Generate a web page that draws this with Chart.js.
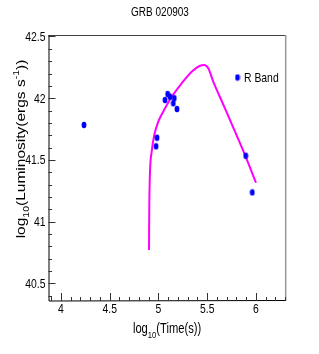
<!DOCTYPE html>
<html>
<head>
<meta charset="utf-8">
<script src="https://cdn.jsdelivr.net/npm/chart.js@4.4.1/dist/chart.umd.min.js"></script>
<style>
    html, body { margin: 0; padding: 0; background: #fff; }
    #wrap { position: relative; width: 319px; height: 354px; }
</style>
</head>
<body>
<div id="wrap"><canvas id="grb"></canvas></div>
<script>
// observed R band points, log10(t), log10(L)
const obsX = [4.236, 5.094, 5.067, 5.118, 5.162, 5.152, 5.19, 4.985, 4.975, 5.895, 5.962];
const obsY = [41.783, 42.034, 41.985, 42.012, 42.0, 41.959, 41.912, 41.68, 41.61, 41.534, 41.237];

// model curve (magenta)
const fitX = [4.903, 4.904, 4.906, 4.913, 4.93, 4.957, 4.998, 5.067, 5.136, 5.238, 5.341, 5.426, 5.47, 5.511, 5.562, 5.682, 5.785, 5.887, 6.0];
const fitY = [40.77, 40.93, 41.135, 41.404, 41.566, 41.702, 41.81, 41.918, 42.012, 42.121, 42.215, 42.263, 42.269, 42.242, 42.134, 41.918, 41.729, 41.54, 41.315];

const xTicks = [4, 4.5, 5, 5.5, 6];
const yTicks = [40.5, 41, 41.5, 42, 42.5];
const xMinor = 0.1;
const yMinor = 0.1;

const plotTitle = "GRB 020903";
const legendLabel = "R Band";

const SX = 0.8; // text looks squeezed horizontally
const FONT = "'Liberation Sans', Arial, sans-serif";

function dotImage() {
    const c = document.createElement("canvas");
    c.width = 6;
    c.height = 8;
    const g = c.getContext("2d");
    g.fillStyle = "#0000ff";
    g.beginPath();
    g.ellipse(3, 4, 2.4, 3.2, 0, 0, Math.PI * 2);
    g.fill();
    return c;
}
const dot = dotImage();

function narrowText(ctx, text, x, y, size, align) {
    ctx.save();
    ctx.font = size + "px " + FONT;
    const w = ctx.measureText(text).width * SX;
    let x0 = x;
    if (align === "center") x0 = x - w / 2;
    if (align === "right") x0 = x - w;
    ctx.translate(x0, y);
    ctx.scale(SX, 1);
    ctx.textAlign = "left";
    ctx.textBaseline = "alphabetic";
    ctx.fillText(text, 0, 0);
    ctx.restore();
}

// parts: [text, size, baseline shift]
function richWidth(ctx, parts) {
    let w = 0;
    for (const p of parts) {
        ctx.font = p[1] + "px " + FONT;
        w += ctx.measureText(p[0]).width;
    }
    return w;
}

function richText(ctx, parts) {
    let x = 0;
    for (const p of parts) {
        ctx.font = p[1] + "px " + FONT;
        ctx.fillText(p[0], x, p[2]);
        x += ctx.measureText(p[0]).width;
    }
}

const framePlugin = {
    id: "frame",
    beforeDraw(chart) {
        const ctx = chart.ctx;
        ctx.save();
        ctx.fillStyle = "#fff";
        ctx.fillRect(0, 0, chart.width, chart.height);
        ctx.restore();
    },
    afterDraw(chart) {
        const ctx = chart.ctx;
        const a = chart.chartArea;
        const xs = chart.scales.x;
        const ys = chart.scales.y;
        ctx.save();
        ctx.fillStyle = "#000";

        // frame
        ctx.lineWidth = 1;
        ctx.strokeStyle = "#444";
        ctx.beginPath();
        ctx.moveTo(a.left, a.top + 0.5);
        ctx.lineTo(a.right, a.top + 0.5);
        ctx.stroke();
        ctx.strokeStyle = "#999";
        ctx.lineWidth = 1.5;
        ctx.beginPath();
        ctx.moveTo(a.right, a.top);
        ctx.lineTo(a.right, a.bottom);
        ctx.stroke();
        ctx.strokeStyle = "#000";
        ctx.lineWidth = 1;
        ctx.beginPath();
        ctx.moveTo(a.left + 0.5, a.top);
        ctx.lineTo(a.left + 0.5, a.bottom);
        ctx.lineTo(a.right, a.bottom - 0.5);
        ctx.stroke();

        // ticks
        ctx.strokeStyle = "#333";
        ctx.beginPath();
        for (let v = Math.ceil(xs.min / xMinor) * xMinor; v <= xs.max + 1e-9; v += xMinor) {
            const px = Math.round(xs.getPixelForValue(v)) + 0.5;
            const major = xTicks.some(t => Math.abs(t - v) < 1e-6);
            ctx.moveTo(px, a.bottom);
            ctx.lineTo(px, a.bottom - (major ? 8 : 4));
        }
        for (let v = Math.ceil(ys.min / yMinor) * yMinor; v <= ys.max + 1e-9; v += yMinor) {
            const py = Math.round(ys.getPixelForValue(v)) + 0.5;
            const major = yTicks.some(t => Math.abs(t - v) < 1e-6);
            ctx.moveTo(a.left, py);
            ctx.lineTo(a.left + (major ? 7 : 3.5), py);
        }
        ctx.stroke();

        // tick labels
        xTicks.forEach(t => narrowText(ctx, String(t), xs.getPixelForValue(t), a.bottom + 11.5, 13, "center"));
        yTicks.forEach(t => narrowText(ctx, String(t), a.left - 3, ys.getPixelForValue(t) + 4.5, 13, "right"));

        // title
        narrowText(ctx, plotTitle, 160, 16, 12.5, "center");

        // x title
        const xParts = [["log", 14, 0], ["10", 9.5, 5], ["(Time(s))", 14, 0]];
        const xw = richWidth(ctx, xParts) * SX;
        ctx.save();
        ctx.translate((a.left + a.right) / 2 - xw / 2, a.bottom + 32);
        ctx.scale(SX, 1);
        richText(ctx, xParts);
        ctx.restore();

        // y title
        const yParts = [["log", 15.5, 0], ["10", 10.5, 5], ["(Luminosity(ergs s", 15.5, 0], ["-1", 10.5, -7], ["))", 15.5, 0]];
        const yw = richWidth(ctx, yParts);
        ctx.save();
        ctx.translate(25, 149 + yw / 2);
        ctx.rotate(-Math.PI / 2);
        ctx.scale(1, SX);
        richText(ctx, yParts);
        ctx.restore();

        // legend
        ctx.drawImage(dot, 234.5, 73.5);
        narrowText(ctx, legendLabel, 244, 82, 13, "left");

        ctx.restore();
    }
};

new Chart(document.getElementById("grb").getContext("2d"), {
    type: "scatter",
    data: {
        datasets: [
            {
                label: "model",
                data: fitX.map((x, i) => ({ x: x, y: fitY[i] })),
                showLine: true,
                borderColor: "#ff00ff",
                borderWidth: 2,
                pointRadius: 0,
                cubicInterpolationMode: "monotone",
                order: 2
            },
            {
                label: legendLabel,
                data: obsX.map((x, i) => ({ x: x, y: obsY[i] })),
                pointStyle: dot,
                pointRadius: 3,
                order: 1
            }
        ]
    },
    options: {
        responsive: true,
        maintainAspectRatio: false,
        animation: false,
        layout: { padding: { left: 48.5, right: 33.3, top: 35, bottom: 53 } },
        plugins: {
            legend: { display: false },
            tooltip: { enabled: false },
            title: { display: false }
        },
        scales: {
            x: { type: "linear", min: 3.872, max: 6.305, display: false },
            y: { type: "linear", min: 40.357, max: 42.512, display: false }
        }
    },
    plugins: [framePlugin]
});
</script>
</body>
</html>
